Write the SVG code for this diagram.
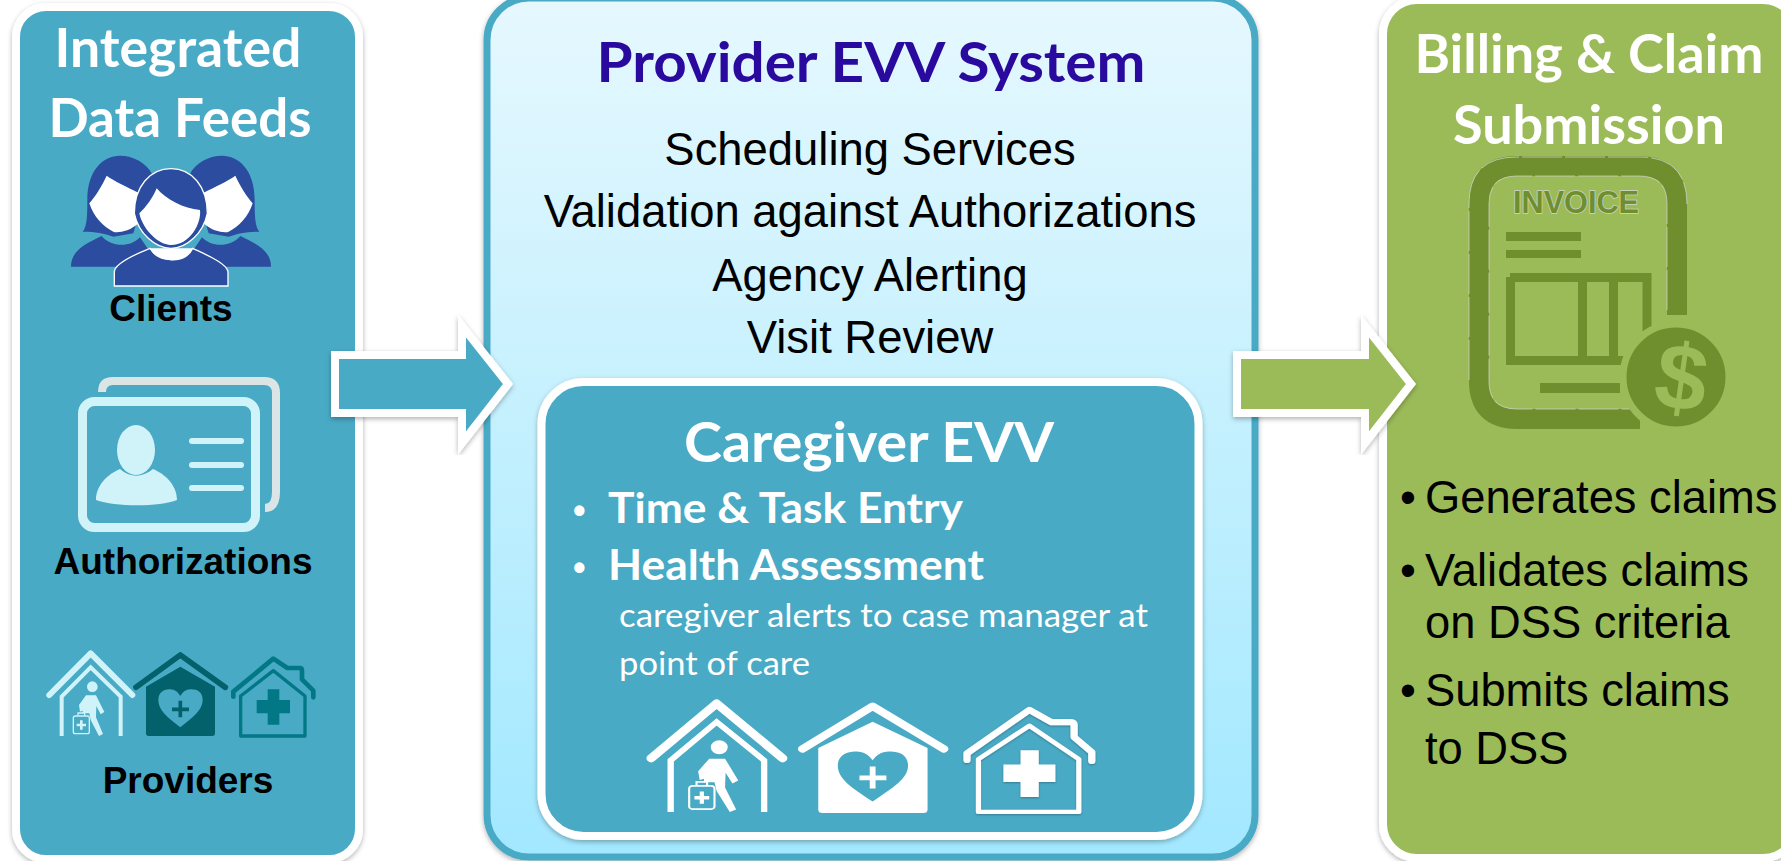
<svg xmlns="http://www.w3.org/2000/svg" width="1781" height="861" viewBox="0 0 1781 861">
<style>
.ti{font-family:Lato,"Open Sans",sans-serif;font-weight:700;fill:#fff;text-anchor:middle}
.ar{font-family:"Liberation Sans",Arial,sans-serif;fill:#000}
.lb{font-weight:700;font-size:37px;text-anchor:middle}
.sv{font-size:45.4px;text-anchor:middle}
.bl{font-size:45.3px}
.cg{font-family:Lato,"Open Sans",sans-serif;fill:#fff}
.bu{font-family:"Liberation Sans",Arial,sans-serif;fill:#fff;font-size:36px;font-weight:700}
.panel{filter:url(#sh)}
.ink{fill:none;stroke-linejoin:round}
</style>
<defs>
<filter id="sh" x="-10%" y="-10%" width="120%" height="120%"><feDropShadow dx="0" dy="2" stdDeviation="2.5" flood-color="#000" flood-opacity=".3"/></filter>
<linearGradient id="mid" x1="0" y1="0" x2="0" y2="1"><stop offset="0" stop-color="#e6f8fe"/><stop offset="1" stop-color="#a2e8ff"/></linearGradient>
<g id="person"><path fill="#2b4c9f" d="M248,695C262,680 262,640 262,600C262,510 310,467 360,467C400,467 440,490 455,520L400,700L340,710C310,700 290,695 248,695Z"/><path fill="#fff" d="M268,610C285,590 305,560 320,527C345,545 380,560 415,578L415,670C390,695 350,700 340,695C310,680 280,650 268,610Z"/><path fill="#2b4c9f" d="M213,800C213,750 260,730 305,708C330,740 390,745 420,712L480,800Z"/></g>
<g id="h1"><path class="ink" stroke-width="18" stroke-linecap="round" d="M148,795L272,670L397,795"/><path fill="none" stroke-width="12" d="M185,918V800L272,712L362,800V918"/><circle cx="277" cy="770" r="16" stroke="none"/><path stroke="none" d="M258,796H288L313,846L302,853L289,828L288,862L309,912L297,918L272,870L268,850H248V842L240,845L237,825Z"/><rect x="220" y="858" width="48" height="53" rx="6" fill="none" stroke-width="4"/><path fill="none" stroke-width="4" d="M234,857V849H254V857"/><path fill="none" stroke-width="8" d="M244,871V899M230,885H258"/></g>
<g id="h2"><path class="ink" stroke-width="17" stroke-linecap="round" d="M408,772L541,675L676,772"/><path stroke="none" fill-rule="evenodd" d="M438,770L541,710L645,770V910Q645,918 637,918H446Q438,918 438,910ZM541,892C500,860 475,840 475,810C475,785 495,777 510,778C525,778 535,788 541,798C547,788 557,778 572,778C590,777 608,785 608,810C608,840 580,860 541,892Z"/><path fill="none" stroke-width="11" d="M541,812V862M516,838H567"/></g>
<g id="h3"><path class="ink" stroke-width="14" stroke-linecap="round" d="M700,800V785L820,686L862,714H900Q906,714 906,722V748L940,782V802"/><path class="ink" stroke-width="10" d="M722,798L820,722L915,798V918H722Z"/><path stroke="none" d="M803,778H838V810H870V850H838V884H803V850H770V810H803Z"/></g>
</defs>
<rect width="1781" height="861" fill="#fff"/>

<g id="integrated-data-feeds">
<rect class="panel" x="16" y="7" width="343" height="852" rx="30" fill="#4aaac5" stroke="#fff" stroke-width="8"/>
<text class="ti" font-size="54" x="178" y="67" textLength="247" lengthAdjust="spacingAndGlyphs">Integrated</text>
<text class="ti" font-size="54" x="180" y="137" textLength="263" lengthAdjust="spacingAndGlyphs">Data Feeds</text>
<g id="clients-icon" transform="scale(.33333)">
<use href="#person"/><use href="#person" transform="translate(1026,0) scale(-1,1)"/>
<path fill="#2b4c9f" stroke="#fff" stroke-width="4" d="M403,640C403,560 450,506 513,506C576,506 622,560 622,640C610,700 560,745 513,745C466,745 415,700 403,640Z"/>
<path fill="#fff" d="M418,640C440,620 460,590 470,565C500,600 550,625 600,630C605,670 570,735 513,735C470,735 425,680 418,640Z"/>
<path fill="#2b4c9f" stroke="#fff" stroke-width="4" d="M343,858V815C345,790 400,765 450,745C470,780 550,800 578,745C620,765 680,790 684,815V858Z"/>
<path fill="#fff" d="M450,745C470,745 555,745 578,745C560,790 470,795 450,745Z"/>
</g>
<text class="ar lb" x="171" y="321">Clients</text>
<g id="authorizations-icon">
<path fill="none" stroke="#dce5e6" stroke-width="8" d="M102,392Q102,381 113,381H264Q276,381 276,393V492Q276,508 265,508"/>
<rect x="82.500" y="401.500" width="173" height="126" rx="12" fill="#4aaac5" stroke="#cff3f8" stroke-width="9"/>
<ellipse cx="136" cy="450" rx="19" ry="25" fill="#cff3f8"/>
<path fill="#cff3f8" d="M120,469C130,478 142,478 153,469C165,474 177,485 177,500C160,507 115,507 96,500C96,485 108,474 120,469Z"/>
<path fill="none" stroke="#cff3f8" stroke-width="6" stroke-linecap="round" d="M192,441H241M192,465H241M192,488H241"/>
</g>
<text class="ar lb" x="183" y="574">Authorizations</text>
<g id="providers-icon" transform="translate(0,430) scale(.33333)">
<use href="#h1" fill="#cff3f8" stroke="#cff3f8"/>
<use href="#h2" fill="#03616b" stroke="#03616b"/>
<use href="#h3" fill="#027886" stroke="#027886"/>
</g>
<text class="ar lb" x="188" y="793">Providers</text>
</g>

<g id="provider-evv-system">
<rect class="panel" x="487" y="-2" width="768" height="859" rx="42" fill="url(#mid)" stroke="#4aaac5" stroke-width="7"/>
<text class="ti" font-size="55" x="871" y="82" textLength="549" lengthAdjust="spacingAndGlyphs" style="fill:#2a0a9e">Provider EVV System</text>
<text class="ar sv" x="870" y="165">Scheduling Services</text>
<text class="ar sv" x="870" y="227">Validation against Authorizations</text>
<text class="ar sv" x="870" y="291">Agency Alerting</text>
<text class="ar sv" x="870" y="353">Visit Review</text>
</g>

<g id="caregiver-evv">
<rect class="panel" x="541.500" y="382" width="657" height="454" rx="42" fill="#4aaac5" stroke="#fff" stroke-width="8"/>
<text class="ti" font-size="56" x="869" y="462" textLength="370" lengthAdjust="spacingAndGlyphs">Caregiver EVV</text>
<text class="bu" x="573" y="523">•</text>
<text class="cg" font-weight="700" font-size="42" x="608" y="523" textLength="355" lengthAdjust="spacingAndGlyphs">Time &amp; Task Entry</text>
<text class="bu" x="573" y="580">•</text>
<text class="cg" font-weight="700" font-size="42" x="608" y="580" textLength="376" lengthAdjust="spacingAndGlyphs">Health Assessment</text>
<text class="cg" font-size="33" x="619" y="627" textLength="529" lengthAdjust="spacingAndGlyphs">caregiver alerts to case manager at</text>
<text class="cg" font-size="33" x="619" y="675" textLength="191" lengthAdjust="spacingAndGlyphs">point of care</text>
<g id="caregiver-icons" fill="#fff" stroke="#fff">
<use href="#h1" transform="translate(573,410) scale(.528,.438)"/>
<use href="#h2" transform="translate(587,410) scale(.528,.439)"/>
<use href="#h3" class="panel" transform="translate(603,408) scale(.52,.44)"/>
</g>
</g>

<g id="billing-claim-submission">
<rect class="panel" x="1383" y="0" width="414" height="858" rx="34" fill="#9bbb59" stroke="#fff" stroke-width="8"/>
<text class="ti" font-size="54" x="1589" y="73" textLength="349" lengthAdjust="spacingAndGlyphs">Billing &amp; Claim</text>
<text class="ti" font-size="54" x="1589" y="144" textLength="272" lengthAdjust="spacingAndGlyphs">Submission</text>
<g id="invoice-icon">
<path fill="none" stroke="#6f8f2e" stroke-width="20" d="M1677,315V204Q1677,166 1639,166H1517Q1479,166 1479,204V381Q1479,419 1517,419H1640"/>
<path fill="none" stroke="#d0d4cc" stroke-width="1" stroke-dasharray="40 3" opacity=".75" d="M1469,380V204Q1469,157 1517,157H1640Q1687,157 1687,204"/>
<path fill="none" stroke="#d0d4cc" stroke-width="1" stroke-dasharray="40 3" opacity=".75" d="M1667,310V204Q1667,176 1639,176H1517Q1489,176 1489,204V381Q1489,409 1517,409H1630"/>
<text x="1576" y="213" text-anchor="middle" font-family="Liberation Sans,sans-serif" font-weight="700" font-size="32" textLength="126" lengthAdjust="spacingAndGlyphs" fill="#6f8f2e" stroke="#d0d4cc" stroke-width="1.500" paint-order="stroke">INVOICE</text>
<path fill="#6f8f2e" d="M1506,232H1581V241H1506ZM1506,250H1581V258H1506ZM1540,383H1620V393H1540Z"/>
<path fill="none" stroke="#6f8f2e" stroke-width="9" d="M1510,277.500H1647V340M1510.500,277V360.500H1625M1582.500,277V360M1613.500,277V360"/>
<circle cx="1676" cy="377" r="53" fill="#6f8f2e" stroke="#9bbb59" stroke-width="7"/>
<text x="0" y="0" transform="translate(1677,409) rotate(8)" text-anchor="middle" font-family="Liberation Sans,sans-serif" font-weight="700" font-size="93" fill="#9bbb59">$</text>
</g>
<g class="ar bl">
<text x="1400" y="513">•</text><text x="1425" y="513">Generates claims</text>
<text x="1400" y="586">•</text><text x="1425" y="586">Validates claims</text>
<text x="1425" y="638">on DSS criteria</text>
<text x="1400" y="706">•</text><text x="1425" y="706">Submits claims</text>
<text x="1425" y="764">to DSS</text>
</g>
</g>

<g id="connectors">
<path class="panel" d="M335,355H462V326L508,384L462,443V413H335Z" fill="#4aaac5" stroke="#fff" stroke-width="8" stroke-linejoin="miter" stroke-miterlimit="10"/>
<path class="panel" d="M1237,355H1365V326L1411,384L1365,443V413H1237Z" fill="#9bbb59" stroke="#fff" stroke-width="8" stroke-linejoin="miter" stroke-miterlimit="10"/>
</g>
</svg>
